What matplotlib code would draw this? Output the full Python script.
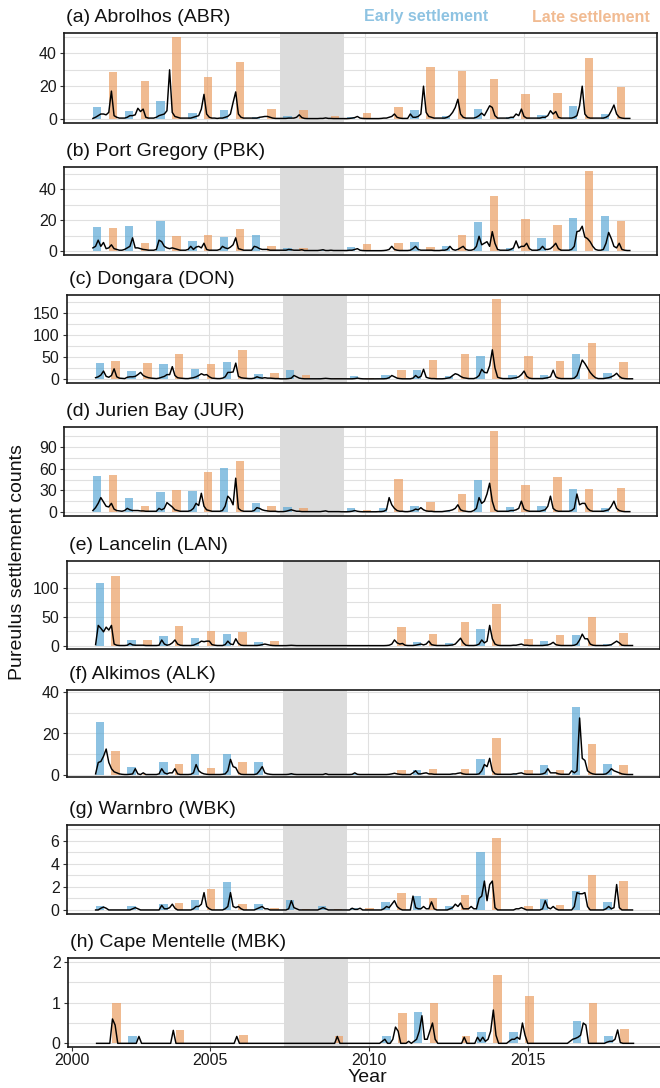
import numpy as np
import matplotlib.pyplot as plt

plt.rcParams['font.family'] = ['Liberation Sans', 'DejaVu Sans']

# ---- data ----
SEASONS = list(range(2001, 2018))   # settlement season start years
LINE_START = 2001 + 5 / 12          # first monthly sample
GAP_PERIOD = (2007.31, 2009.34)     # shaded period

ABR_EARLY = [7.5, 4.6, 11, 3.8, 5.2, 1.2, 1.9, 0.3, 1.2, 0.2, 5.6, 1.9, 6.3, 1.2, 2.5, 7.9, 3.1]
ABR_LATE = [28.7, 22.9, 50, 25.6, 34.8, 6.3, 5.2, 1.5, 3.8, 7.5, 31.9, 29.2, 24.4, 15.4, 15.8, 37, 19.4]
ABR_MONTHLY = [
    [0.3, 1.0, 2.0, 3.0, 3.0, 2.5, 4.0, 17.0, 2.0, 1.0, 0.5, 0.5],
    [0.5, 1.0, 2.0, 2.0, 2.5, 6.5, 4.5, 6.0, 1.0, 0.5, 0.5, 0.5],
    [1.0, 2.0, 2.5, 3.0, 5.0, 30.0, 4.0, 1.5, 1.0, 0.5, 0.5, 0.5],
    [0.5, 0.5, 1.0, 1.5, 2.0, 6.0, 15.0, 3.0, 1.0, 0.5, 0.5, 0.3],
    [0.5, 0.5, 1.0, 1.5, 3.0, 10.0, 16.5, 3.0, 1.0, 0.5, 0.5, 0.5],
    [0.5, 0.5, 0.5, 1.0, 1.2, 1.5, 1.5, 1.0, 0.5, 0.3, 0.3, 0.3],
    [0.3, 0.3, 0.5, 0.5, 0.5, 1.0, 2.5, 0.8, 0.3, 0.2, 0.2, 0.2],
    [0.2, 0.2, 0.3, 0.3, 0.6, 0.3, 0.3, 0.2, 0.2, 0.2, 0.2, 0.2],
    [0.2, 0.3, 0.5, 0.8, 1.5, 0.5, 0.3, 0.2, 0.2, 0.2, 0.2, 0.2],
    [0.2, 0.3, 0.5, 0.5, 1.0, 1.5, 3.0, 1.0, 0.5, 0.3, 0.3, 0.3],
    [3.0, 1.0, 1.0, 1.5, 3.0, 20.0, 4.0, 1.5, 1.0, 0.5, 0.5, 0.5],
    [0.5, 0.5, 1.0, 2.0, 4.0, 7.0, 12.0, 3.0, 1.0, 0.5, 0.5, 0.5],
    [0.5, 1.0, 2.0, 3.5, 2.0, 5.0, 8.0, 7.0, 2.0, 0.5, 0.5, 0.5],
    [0.5, 0.5, 1.0, 1.0, 3.0, 2.0, 6.0, 1.5, 0.5, 0.5, 0.5, 0.5],
    [0.5, 0.5, 1.0, 1.0, 2.0, 5.0, 3.0, 4.5, 1.0, 0.5, 0.5, 0.5],
    [0.5, 0.5, 1.0, 2.0, 8.0, 20.0, 3.0, 1.0, 0.5, 0.5, 0.5, 0.5],
    [0.5, 0.5, 1.0, 2.0, 5.0, 8.5, 3.0, 1.0, 0.5, 0.3, 0.3, 0.3],
]

PBK_EARLY = [15.7, 16.4, 19.6, 6.4, 9.1, 10.2, 1.7, 0.4, 2.8, 0.3, 5.7, 3.4, 18.5, 1.9, 8.5, 21.3, 22.8]
PBK_LATE = [14.9, 5.3, 9.6, 10.6, 14.5, 3.4, 2.1, 0.6, 4.3, 5.3, 2.5, 10.4, 35.5, 20.6, 17, 51.7, 19.1]
PBK_MONTHLY = [
    [2.0, 3.0, 7.0, 3.0, 5.5, 1.5, 2.0, 4.0, 1.5, 1.0, 0.5, 0.5],
    [1.0, 2.0, 3.0, 8.5, 2.0, 2.0, 1.5, 1.0, 0.8, 0.5, 0.5, 0.5],
    [1.0, 7.0, 6.0, 3.0, 2.0, 1.5, 2.0, 1.5, 1.0, 0.5, 0.5, 0.5],
    [1.0, 3.0, 1.0, 2.5, 3.0, 2.0, 5.0, 1.0, 0.5, 0.5, 0.5, 0.5],
    [1.0, 3.0, 2.0, 1.5, 2.5, 4.0, 8.5, 1.5, 1.0, 0.5, 0.5, 0.5],
    [0.5, 3.0, 2.5, 1.5, 1.0, 1.0, 1.0, 0.5, 0.5, 0.5, 0.5, 0.5],
    [0.5, 0.5, 1.0, 0.8, 0.5, 0.5, 0.5, 0.8, 0.3, 0.3, 0.3, 0.3],
    [0.3, 0.3, 0.5, 0.8, 0.3, 0.3, 0.5, 0.3, 0.3, 0.3, 0.3, 0.3],
    [0.3, 0.5, 0.5, 1.0, 1.5, 0.5, 0.3, 0.2, 0.2, 0.2, 0.2, 0.2],
    [0.2, 0.2, 0.3, 0.5, 1.0, 3.0, 1.0, 0.5, 0.3, 0.3, 0.3, 0.3],
    [0.5, 1.5, 3.0, 1.0, 0.5, 0.5, 0.5, 0.5, 0.5, 0.3, 0.3, 0.3],
    [0.5, 0.5, 1.0, 3.0, 1.0, 0.5, 1.0, 2.0, 3.0, 1.0, 0.5, 0.5],
    [1.0, 3.0, 9.5, 4.0, 5.0, 6.0, 3.0, 12.5, 5.0, 1.0, 0.5, 0.5],
    [0.5, 0.5, 1.0, 2.0, 6.5, 2.0, 3.0, 3.0, 5.0, 1.5, 0.5, 0.5],
    [0.5, 1.0, 3.0, 1.0, 1.0, 1.5, 3.0, 5.0, 1.5, 0.5, 0.5, 0.5],
    [0.5, 1.0, 3.0, 12.5, 13.0, 16.0, 9.0, 8.0, 6.0, 3.0, 1.0, 0.5],
    [0.5, 1.0, 5.0, 12.0, 8.0, 3.0, 2.0, 5.0, 1.0, 0.5, 0.3, 0.3],
]

DON_EARLY = [36, 18, 33, 22.5, 39, 11, 20, 2, 6, 9, 19.5, 6, 52.5, 9, 9, 57, 13.5]
DON_LATE = [41, 37, 56, 34, 64.5, 13.5, 10, 1.5, 1.5, 19.5, 43.5, 56, 181, 51, 41, 81, 39.5]
DON_MONTHLY = [
    [3, 5, 9, 18, 6, 4, 8, 23, 5, 2, 1.5, 1],
    [4, 5, 5, 6, 10, 15, 8, 5, 3, 2, 1.5, 1],
    [2, 4, 6, 10, 10, 28, 8, 3, 2, 1.5, 1, 1],
    [2, 3, 5, 8, 12, 9, 10, 5, 2, 1.5, 1, 1],
    [2, 5, 15, 15, 16, 36, 6, 3, 2, 1.5, 1, 1],
    [2, 5, 3, 2, 3, 2, 2, 1.5, 1, 1, 0.5, 0.5],
    [0.5, 1, 2, 8, 5, 2, 1, 0.5, 0.5, 0.3, 0.3, 0.3],
    [0.5, 0.5, 1, 1.5, 1, 0.5, 0.5, 0.3, 0.3, 0.3, 0.3, 0.3],
    [0.3, 0.5, 1, 2, 1, 0.5, 0.3, 0.3, 0.3, 0.3, 0.3, 0.3],
    [0.3, 0.5, 1, 3, 8, 5, 2, 1, 0.5, 0.5, 0.5, 0.5],
    [2, 8, 3, 6, 22, 4, 2, 1, 1, 0.5, 0.5, 0.5],
    [1, 2, 3, 8, 12, 10, 6, 3, 2, 1, 1, 1],
    [3, 8, 22, 15, 14, 30, 66, 25, 4, 2, 1, 1],
    [1, 1, 2, 3, 5, 10, 18, 6, 2, 1, 1, 1],
    [1, 1, 2, 3, 5, 20, 5, 2, 1, 1, 1, 1],
    [1, 2, 8, 25, 43, 35, 25, 15, 8, 3, 1, 1],
    [1, 2, 3, 5, 8, 13, 6, 2, 1, 0.5, 0.5, 0.5],
]

JUR_EARLY = [50, 20, 28, 29.5, 61, 13, 7, 1, 5.5, 5.5, 9, 1, 45, 7, 8, 32, 6]
JUR_LATE = [51, 9, 31, 55, 71.5, 9, 6, 1, 3, 45.5, 14, 25.5, 112.6, 37, 48, 32, 33.7]
JUR_MONTHLY = [
    [2, 6, 12, 20, 14, 8, 7, 12, 4, 2, 1.5, 1],
    [2, 5, 3, 2, 2, 2, 1.5, 1.5, 1, 1, 1, 1],
    [1, 5, 3, 5, 13, 10, 7, 3, 2, 1, 1, 1],
    [1, 2, 5, 12, 9, 26, 8, 3, 2, 1, 1, 1],
    [1, 2, 8, 22, 18, 10, 47, 5, 2, 1, 1, 1],
    [1, 2, 6, 5, 3, 2, 1.5, 1, 1, 1, 0.5, 0.5],
    [0.5, 1, 2, 3, 2, 1, 1, 0.5, 0.5, 0.5, 0.5, 0.5],
    [0.5, 0.5, 0.5, 1, 1.5, 0.5, 0.5, 0.5, 0.5, 0.5, 0.3, 0.3],
    [0.3, 0.5, 1, 2, 1, 0.5, 0.3, 0.3, 0.3, 0.3, 0.3, 0.3],
    [0.5, 0.5, 1, 3, 20, 10, 5, 2, 1, 1, 0.5, 0.5],
    [1, 2, 4, 3, 6, 3, 1.5, 1, 1, 0.5, 0.5, 0.5],
    [0.5, 1, 1.5, 2, 3, 5, 10, 3, 1.5, 1, 0.5, 0.5],
    [2, 5, 20, 12, 15, 25, 40, 15, 3, 1, 1, 1],
    [1, 1, 2, 2, 3, 5, 15, 4, 2, 1, 1, 1],
    [1, 1, 2, 3, 8, 22, 5, 2, 1, 1, 1, 1],
    [1, 2, 5, 25, 10, 12, 12, 5, 2, 1, 1, 1],
    [1, 1, 2, 3, 8, 15, 5, 2, 1, 0.5, 0.5, 0.5],
]

LAN_EARLY = [107, 10, 17, 14, 20.5, 7, 1, 0, 0, 0.5, 6, 4.5, 28, 1, 8, 19, 3.5]
LAN_LATE = [119, 10, 34, 26, 24, 8.5, 0.5, 0, 0, 32.5, 20.5, 40, 71, 12.5, 19, 50, 22]
LAN_MONTHLY = [
    [2, 35, 30, 24, 32, 27, 35, 3, 1, 0.5, 0.5, 0.5],
    [1, 4, 1.5, 1, 1, 1, 1, 0.5, 0.5, 0.5, 0.5, 0.5],
    [1, 10, 3, 1, 2, 5, 10, 3, 1, 0.5, 0.5, 0.5],
    [0.5, 1, 3, 5, 8, 7, 8, 8, 2, 1, 0.5, 0.5],
    [0.5, 2, 8, 3, 2, 12, 4, 1, 0.5, 0.5, 0.5, 0.5],
    [0.5, 0.5, 1, 2, 3, 2, 1, 0.5, 0.3, 0.3, 0.3, 0.3],
    [0.3, 0.5, 0.8, 0.5, 0.3, 0.3, 0.3, 0.2, 0.2, 0.2, 0.2, 0.2],
    [0.2, 0.2, 0.2, 0.3, 0.2, 0.2, 0.2, 0.2, 0.2, 0.2, 0.2, 0.2],
    [0.2, 0.2, 0.2, 0.2, 0.2, 0.2, 0.2, 0.2, 0.2, 0.2, 0.2, 0.2],
    [0.2, 0.3, 0.5, 1, 3, 10, 5, 3, 4, 1, 0.5, 0.5],
    [0.5, 1, 2, 3, 1.5, 3, 8, 2, 1, 0.5, 0.5, 0.5],
    [0.5, 0.5, 1, 1.5, 3, 8, 13, 5, 1, 0.5, 0.5, 0.5],
    [1, 3, 10, 5, 8, 35, 12, 3, 1, 0.5, 0.5, 0.5],
    [0.5, 0.5, 1, 1, 2, 3, 1, 1, 0.5, 0.5, 0.5, 0.5],
    [0.5, 0.5, 1, 1.5, 3, 6, 2, 1, 0.5, 0.5, 0.5, 0.5],
    [0.5, 1, 3, 10, 20, 12, 12, 3, 1, 0.5, 0.5, 0.5],
    [0.5, 0.5, 1, 2, 5, 8, 5, 1, 0.5, 0.5, 0.5, 0.5],
]

ALK_EARLY = [25.4, 3.7, 6.1, 10.1, 10.3, 6.4, 0.5, 0, 0.5, 0, 2.6, 0.5, 7.7, 0.5, 4.7, 32.6, 5.3]
ALK_LATE = [11.6, 0.5, 5.1, 3.2, 6.4, 0.3, 0, 0, 0, 2.4, 2.7, 2.7, 17.7, 2.2, 2.2, 14.8, 4.8]
ALK_MONTHLY = [
    [0.5, 6, 6.5, 9, 12.5, 6, 3, 1.5, 1, 0.5, 0.3, 0.2],
    [0.2, 0.3, 0.5, 3, 0.5, 0.2, 1, 0.2, 0.2, 0.2, 0.2, 0.2],
    [0.5, 3, 1, 0.5, 1, 1, 3, 0.5, 0.2, 0.2, 0.2, 0.2],
    [0.3, 1, 5, 2, 1, 0.5, 0.3, 0.2, 0.2, 0.2, 0.2, 0.2],
    [0.3, 0.5, 2, 7.5, 4, 3.5, 1, 0.3, 0.2, 0.2, 0.2, 0.2],
    [0.2, 0.5, 2, 4, 1, 0.5, 0.3, 0.2, 0.2, 0.2, 0.2, 0.2],
    [0.2, 0.3, 0.6, 0.3, 0.2, 0.2, 0.2, 0.2, 0.2, 0.2, 0.2, 0.2],
    [0.2, 0.2, 0.2, 0.6, 0.2, 0.2, 0.2, 0.2, 0.2, 0.2, 0.2, 0.2],
    [0.2, 0.3, 1, 0.3, 0.2, 0.2, 0.2, 0.2, 0.2, 0.2, 0.2, 0.2],
    [0.2, 0.2, 0.2, 0.3, 0.5, 0.8, 0.5, 0.3, 0.2, 0.2, 0.2, 0.2],
    [1, 2, 0.5, 0.5, 0.8, 1, 0.5, 0.5, 0.3, 0.3, 0.3, 0.3],
    [0.3, 0.3, 0.3, 0.5, 0.5, 0.8, 1, 0.5, 0.3, 0.3, 0.3, 0.3],
    [0.3, 0.5, 2, 5, 4, 8, 2, 0.5, 0.3, 0.3, 0.3, 0.3],
    [0.3, 0.3, 0.5, 0.5, 0.8, 1, 0.5, 0.3, 0.3, 0.3, 0.3, 0.3],
    [0.3, 0.5, 1, 3, 1, 1, 1, 0.5, 0.3, 0.3, 0.3, 0.3],
    [2, 1, 2, 27.5, 8, 7, 2, 1, 0.5, 0.3, 0.3, 0.3],
    [0.3, 0.5, 1.5, 3, 2, 1.5, 1, 0.5, 0.3, 0.2, 0.2, 0.2],
]

WBK_EARLY = [0.35, 0.35, 0.5, 0.86, 2.4, 0.55, 0.9, 0.37, 0.17, 0.7, 1.2, 0.37, 5.0, 0, 0.95, 1.6, 0.72]
WBK_LATE = [0, 0, 0.63, 1.85, 0.5, 0.17, 0.1, 0.1, 0.17, 1.5, 1.04, 1.33, 6.2, 0.35, 0.4, 3.05, 2.5]
WBK_MONTHLY = [
    [0, 0, 0.15, 0.25, 0.15, 0, 0, 0, 0, 0, 0, 0],
    [0, 0, 0.1, 0.2, 0.1, 0, 0, 0, 0, 0, 0, 0],
    [0, 0.4, 0.1, 0.1, 0.2, 0.5, 0.15, 0, 0, 0, 0, 0],
    [0, 0.1, 0.3, 0.3, 0.5, 1.5, 0.3, 0.1, 0, 0, 0, 0],
    [0, 0.1, 0.3, 1.5, 0.3, 0.2, 0.3, 0.1, 0, 0, 0, 0],
    [0, 0.1, 0.2, 0.3, 0.1, 0.1, 0, 0, 0, 0, 0, 0],
    [0, 0.1, 0.8, 0.2, 0.1, 0, 0, 0, 0, 0, 0, 0],
    [0, 0.1, 0.2, 0.1, 0, 0, 0, 0, 0, 0, 0, 0],
    [0, 0.15, 0.05, 0.05, 0.15, 0, 0, 0, 0, 0, 0, 0],
    [0, 0.1, 0.3, 0.2, 0.5, 0.8, 0.3, 0.1, 0, 0, 0, 0],
    [1.2, 0.2, 0.1, 0.1, 0.3, 0.1, 0.1, 0.7, 0.1, 0, 0, 0],
    [0, 0, 0.1, 0.2, 0.5, 0.3, 0.6, 0.1, 0.1, 0.1, 0.3, 0.1],
    [0.1, 1.0, 1.2, 2.5, 0.8, 2.2, 2.5, 0.2, 0, 0, 0, 0],
    [0, 0, 0, 0.1, 0.1, 0.2, 0.1, 0, 0, 0, 0, 0],
    [0, 0.1, 0.8, 0.2, 0.1, 0.3, 0.1, 0, 0, 0, 0, 0],
    [0, 0.3, 1.5, 1.4, 1.4, 1.5, 0.3, 0, 0, 0, 0, 0],
    [0, 0.1, 0.3, 0.1, 0.2, 2.2, 0.2, 0, 0, 0, 0, 0],
]

MBK_EARLY = [0, 0.17, 0, 0, 0.02, 0, 0, 0.02, 0, 0.19, 0.77, 0, 0.29, 0.29, 0, 0.56, 0.17]
MBK_LATE = [1.0, 0, 0.34, 0, 0.2, 0, 0, 0.18, 0, 0.74, 1.0, 0.17, 1.69, 1.17, 0, 1.0, 0.36]
MBK_MONTHLY = [
    [0, 0, 0, 0, 0, 0, 0.6, 0.45, 0, 0, 0, 0],
    [0, 0, 0, 0, 0.17, 0, 0, 0, 0, 0, 0, 0],
    [0, 0, 0, 0, 0, 0.32, 0, 0, 0, 0, 0, 0],
    [0, 0, 0, 0, 0, 0, 0, 0, 0, 0, 0, 0],
    [0, 0, 0, 0, 0, 0.17, 0, 0, 0, 0, 0, 0],
    [0, 0, 0, 0, 0, 0, 0, 0, 0, 0, 0, 0],
    [0, 0, 0, 0, 0, 0, 0, 0, 0, 0, 0, 0],
    [0, 0, 0, 0, 0, 0, 0, 0.17, 0, 0, 0, 0],
    [0, 0, 0, 0, 0, 0, 0, 0, 0, 0, 0, 0],
    [0.05, 0.1, 0, 0, 0.1, 0.4, 0.3, 0, 0, 0, 0.05, 0],
    [0.05, 0.1, 0.3, 0.68, 0.1, 0.1, 0.3, 0.5, 0.1, 0, 0, 0],
    [0, 0, 0, 0, 0, 0, 0, 0.15, 0, 0, 0, 0],
    [0.15, 0.05, 0.15, 0.05, 0.1, 0.3, 0.82, 0.2, 0, 0, 0, 0],
    [0.05, 0.1, 0.1, 0.15, 0.1, 0.5, 0.2, 0, 0, 0, 0, 0],
    [0, 0, 0, 0, 0, 0, 0, 0, 0, 0, 0, 0.05],
    [0.1, 0.12, 0.15, 0.2, 0.5, 0.45, 0, 0, 0, 0, 0, 0],
    [0, 0.03, 0.05, 0.05, 0.1, 0.33, 0.02, 0, 0, 0, 0, 0],
]

# ---- layout / style ----
W, H = 660, 1088
BLUE = '#5DA9D6'
ORANGE = '#EB9E63'
BAR_ALPHA = 0.7
BLUE_TXT = '#8EC3E2'
ORANGE_TXT = '#F1BB92'
GRID = '#E0E0E0'

# title, early, late, monthly, ylim, major ticks, minor ticks, (left px, top px, bottom px)
panels = [
    ('(a) Abrolhos (ABR)', ABR_EARLY, ABR_LATE, ABR_MONTHLY, (-2.5, 52.5), [0, 20, 40], [10, 30, 50], (63.8, 33, 123)),
    ('(b) Port Gregory (PBK)', PBK_EARLY, PBK_LATE, PBK_MONTHLY, (-2.6, 54.3), [0, 20, 40], [10, 30, 50], (63.8, 167, 255)),
    ('(c) Dongara (DON)', DON_EARLY, DON_LATE, DON_MONTHLY, (-9, 190), [0, 50, 100, 150], [25, 75, 125, 175], (66.5, 295, 383)),
    ('(d) Jurien Bay (JUR)', JUR_EARLY, JUR_LATE, JUR_MONTHLY, (-5.6, 118.2), [0, 30, 60, 90], [15, 45, 75, 105], (63.8, 427, 516)),
    ('(e) Lancelin (LAN)', LAN_EARLY, LAN_LATE, LAN_MONTHLY, (-5.5, 145.5), [0, 50, 100], [25, 75, 125], (66.5, 561, 649)),
    ('(f) Alkimos (ALK)', ALK_EARLY, ALK_LATE, ALK_MONTHLY, (-1, 41), [0, 20, 40], [10, 30], (66.5, 690, 777)),
    ('(g) Warnbro (WBK)', WBK_EARLY, WBK_LATE, WBK_MONTHLY, (-0.35, 7.35), [0, 2, 4, 6], [1, 3, 5, 7], (66.5, 825, 914)),
    ('(h) Cape Mentelle (MBK)', MBK_EARLY, MBK_LATE, MBK_MONTHLY, (-0.09, 2.1), [0, 1, 2], [0.5, 1.5], (67.5, 958, 1047)),
]

XLIM = (2000.5, 2019.19)
AX_W = 593.2

early_x = np.array(SEASONS) + 0.55
late_x = np.array(SEASONS) + 1.05

fig = plt.figure(figsize=(W / 100, H / 100), dpi=100)

for i, (title, early, late, monthly, ylim, major, minor, (lpx, tpx, bpx)) in enumerate(panels):
    ax = fig.add_axes([lpx / W, 1 - bpx / H, AX_W / W, (bpx - tpx) / H])
    last = i == len(panels) - 1

    series = np.array(monthly, dtype=float).ravel()
    month_x = LINE_START + np.arange(series.size) / 12

    ax.axvspan(*GAP_PERIOD, color='#DCDCDC', lw=0, zorder=1)
    ax.bar(early_x, early, width=0.265, color=BLUE, alpha=BAR_ALPHA, lw=0, zorder=2)
    ax.bar(late_x, late, width=0.265, color=ORANGE, alpha=BAR_ALPHA, lw=0, zorder=2)
    ax.plot(month_x, series, color='black', lw=1.05, zorder=3)

    ax.set_xlim(*XLIM)
    ax.set_ylim(*ylim)
    ax.set_yticks(major)
    ax.set_yticks(minor, minor=True)
    ax.set_yticklabels([f'{v:g}' for v in major])
    ax.set_axisbelow(True)

    if last:
        ax.set_xticks([2000.65, 2005, 2010, 2015])
        ax.set_xticklabels(['2000', '2005', '2010', '2015'])
        ax.tick_params(axis='x', length=3, width=0.8, color='#333333', pad=1,
                       labelsize=11.5, labelcolor='#1a1a1a')
    else:
        ax.set_xticks([2005, 2010, 2015])
        ax.tick_params(axis='x', length=0, labelbottom=False)

    ax.tick_params(axis='y', which='major', length=3, width=0.8, color='#333333',
                   pad=2, labelsize=11.5, labelcolor='#1a1a1a')
    ax.tick_params(axis='y', which='minor', length=0)

    ax.grid(True, which='major', axis='both', color=GRID, lw=0.8)
    ax.grid(True, which='minor', axis='y', color=GRID, lw=0.8)
    if last:
        ax.get_xgridlines()[0].set_visible(False)

    for s in ax.spines.values():
        s.set_color('#1a1a1a')
        s.set_linewidth(1.2)

    ax.annotate(title, xy=(0, 1), xycoords='axes fraction',
                xytext=(1.5, 11.5), textcoords='offset points',
                ha='left', va='center', fontsize=14, color='#111111')

fig.text(364 / W, 1 - 17 / H, 'Early settlement', ha='left', va='center',
         fontsize=11.5, fontweight='bold', color=BLUE_TXT)
fig.text(532 / W, 1 - 17 / H, 'Late settlement', ha='left', va='center',
         fontsize=11.5, fontweight='bold', color=ORANGE_TXT)

fig.text(18 / W, 1 - 562 / H, 'Pureulus settlement counts', rotation=90,
         ha='center', va='center', fontsize=14, color='#111111')
fig.text(367 / W, 1 - 1077 / H, 'Year', ha='center', va='center',
         fontsize=14, color='#111111')

fig.savefig('out.png', dpi=100)
